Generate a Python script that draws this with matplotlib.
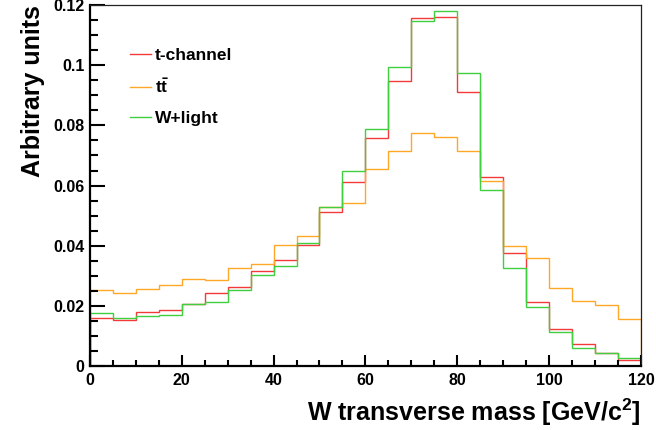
import numpy as np
import matplotlib
matplotlib.use("Agg")
import matplotlib.pyplot as plt

# W transverse mass histograms, 5 GeV bins from 0 to 120
bin_edges = [0, 5, 10, 15, 20, 25, 30, 35, 40, 45, 50, 55, 60,
             65, 70, 75, 80, 85, 90, 95, 100, 105, 110, 115, 120]

t_channel = [0.0161, 0.0153, 0.0178, 0.0185, 0.0205, 0.0241, 0.0261, 0.0315,
             0.0353, 0.0403, 0.0513, 0.0611, 0.0757, 0.0948, 0.1156, 0.1162,
             0.0912, 0.0628, 0.0374, 0.0213, 0.0124, 0.0072, 0.0043, 0.0020]

ttbar = [0.0254, 0.0241, 0.0255, 0.0269, 0.0290, 0.0285, 0.0325, 0.0339,
         0.0403, 0.0433, 0.0527, 0.0543, 0.0654, 0.0716, 0.0776, 0.0761,
         0.0716, 0.0615, 0.0400, 0.0358, 0.0259, 0.0215, 0.0203, 0.0156]

w_light = [0.0175, 0.0161, 0.0165, 0.0169, 0.0205, 0.0214, 0.0254, 0.0304,
           0.0334, 0.0408, 0.0527, 0.0648, 0.0788, 0.0995, 0.1147, 0.1180,
           0.0976, 0.0584, 0.0325, 0.0195, 0.0114, 0.0060, 0.0043, 0.0026]

series = [
    (t_channel, 't-channel', '#f23a3a'),
    (ttbar, r'$\mathbf{t\bar{t}}$', '#ffa726'),
    (w_light, 'W+light', '#3fcf3f'),
]

plt.rcParams['font.family'] = ['Liberation Sans', 'DejaVu Sans']
plt.rcParams['font.weight'] = 'bold'
plt.rcParams['mathtext.fontset'] = 'custom'
plt.rcParams['mathtext.rm'] = 'Liberation Sans'
plt.rcParams['mathtext.bf'] = 'Liberation Sans:bold'

fig = plt.figure(figsize=(6.56, 4.30), dpi=100)
ax = fig.add_axes([0.137, 0.149, 0.840, 0.839])

for values, label, color in series:
    ax.stairs(values, bin_edges, color=color, linewidth=1.0, label=label)

ax.set_xlim(0, 120)
ax.set_ylim(0, 0.12)

ax.set_xticks([0, 20, 40, 60, 80, 100, 120])
ax.set_xticks(np.arange(0, 121, 5), minor=True)
ax.set_yticks([0, 0.02, 0.04, 0.06, 0.08, 0.1, 0.12])
ax.set_yticklabels(['0', '0.02', '0.04', '0.06', '0.08', '0.1', '0.12'])
ax.set_yticks(np.arange(0, 0.1201, 0.005), minor=True)

ax.tick_params(axis='both', which='both', direction='in', top=False, right=False,
               labelsize=11.5, width=1.5)
ax.tick_params(axis='y', which='major', length=11, pad=4)
ax.tick_params(axis='y', which='minor', length=5.5)
ax.tick_params(axis='x', which='major', length=8, pad=5)
ax.tick_params(axis='x', which='minor', length=4)

for side in ['left', 'bottom']:
    ax.spines[side].set_linewidth(1.6)
for side in ['top', 'right']:
    ax.spines[side].set_linewidth(0.9)
    ax.spines[side].set_color('#222222')

ax.set_xlabel(r'W transverse mass [GeV/c$^\mathbf{2}$]', fontsize=18,
              fontweight='bold', loc='right', labelpad=6)
ax.set_ylabel('Arbitrary units', fontsize=18, fontweight='bold', loc='top', labelpad=6)

ax.legend(loc='upper left', bbox_to_anchor=(0.044, 0.925), frameon=False,
          fontsize=12.5, handlelength=1.25, handletextpad=0.2, labelspacing=0.85)

fig.savefig('out.png', dpi=100)
